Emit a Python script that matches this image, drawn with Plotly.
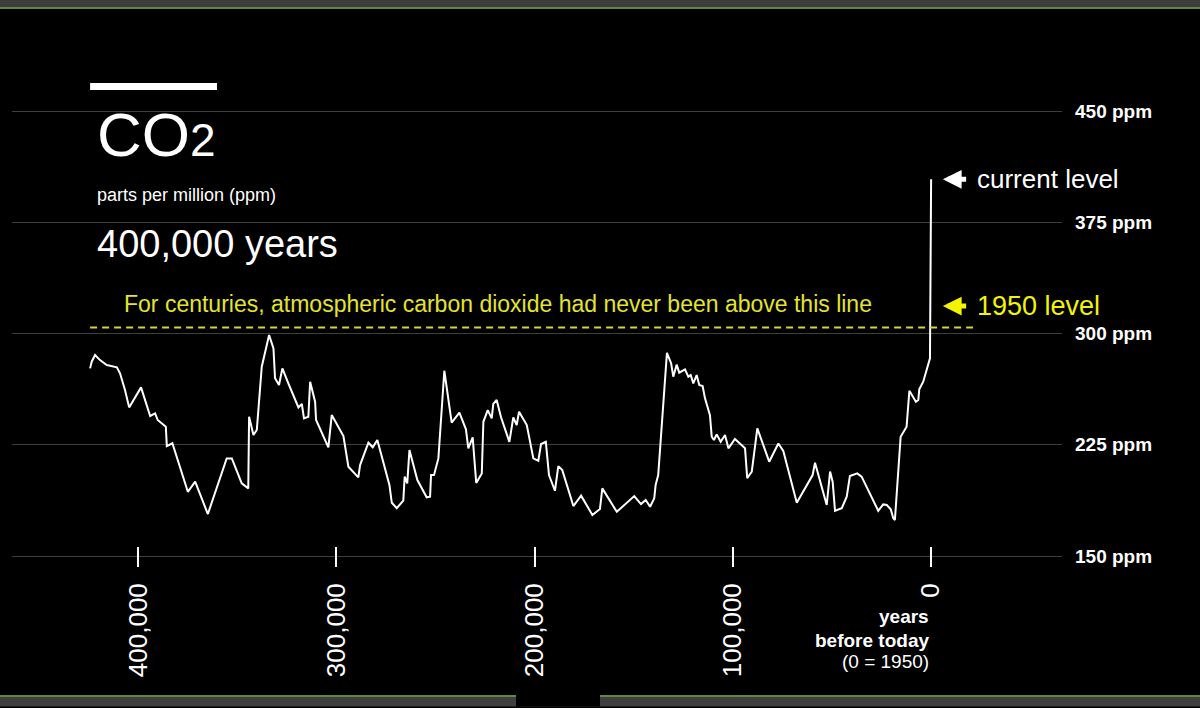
import plotly.graph_objects as go

# thousands of years before 1950
kyr_bp = [
    424.2, 423.4, 421.7, 419.2, 415.8, 410.7, 409.1, 406.6, 404.5, 398.5,
    393.9, 391.4, 390.1, 386.0, 385.5, 382.7, 374.9, 371.2, 364.8, 358.6,
    355.3, 352.7, 347.7, 344.4, 344.0, 341.8, 340.1, 337.6, 333.9, 331.7,
    330.9, 328.9, 327.2, 324.2, 319.1, 317.4, 316.3, 314.1, 313.2, 310.7,
    310.2, 304.0, 302.3, 296.4, 293.9, 288.9, 288.0, 283.8, 281.6, 279.3,
    274.9, 273.2, 272.0, 269.5, 266.2, 265.5, 264.2, 263.1, 259.1, 254.4,
    252.7, 252.2, 250.7, 249.7, 248.5, 245.5, 241.8, 237.9, 234.6, 233.4,
    231.2, 229.4, 226.6, 225.8, 223.6, 221.6, 220.8, 219.1, 216.9, 212.7,
    210.7, 209.0, 207.8, 203.9, 200.6, 198.1, 196.7, 194.3, 192.7, 189.7,
    188.0, 186.0, 180.4, 176.5, 170.8, 167.0, 165.8, 158.5, 149.7, 146.3,
    143.9, 141.7, 139.6, 138.9, 137.6, 133.2, 131.1, 130.0, 128.3, 127.0,
    124.1, 122.4, 121.2, 119.9, 118.2, 116.9, 115.2, 114.0, 111.5, 110.6,
    109.5, 108.1, 106.1, 103.9, 102.2, 98.9, 93.8, 92.7, 90.4, 87.6,
    81.6, 77.0, 74.5, 67.7, 59.7, 58.5, 52.6, 50.9, 49.6, 48.4,
    45.0, 42.5, 40.9, 37.2, 35.0, 26.6, 24.1, 22.3, 20.3, 19.0,
    18.2, 15.3, 12.3, 10.9, 7.6, 6.4, 5.9, 3.9, 0.5, -0.07,
]
co2_ppm = [
    276.5, 281.0, 285.5, 282.1, 278.8, 277.2, 273.2, 261.9, 250.2, 263.7,
    244.4, 246.2, 241.7, 237.2, 224.1, 226.0, 193.3, 200.1, 178.3, 203.5,
    215.8, 215.8, 199.0, 195.6, 243.9, 231.6, 235.0, 277.6, 299.0, 290.0,
    269.8, 265.3, 276.5, 266.4, 250.2, 252.5, 242.8, 243.9, 267.5, 254.0,
    241.7, 223.3, 245.0, 230.9, 210.2, 203.0, 211.3, 226.4, 223.3, 228.2,
    206.9, 197.9, 185.9, 182.2, 187.3, 203.5, 199.0, 221.4, 201.2, 189.6,
    190.0, 204.6, 204.6, 210.2, 215.8, 274.9, 240.0, 246.6, 235.4, 222.6,
    230.0, 199.2, 205.7, 240.5, 248.4, 242.8, 252.5, 255.2, 243.5, 227.0,
    243.5, 238.3, 247.3, 238.3, 215.8, 214.2, 225.5, 227.0, 204.6, 194.0,
    210.6, 207.9, 183.7, 190.7, 177.6, 181.7, 195.6, 179.8, 190.4, 185.0,
    187.8, 183.2, 188.9, 197.9, 204.6, 287.0, 280.0, 270.9, 279.0, 273.6,
    275.8, 270.9, 272.0, 266.4, 272.0, 265.3, 264.6, 256.3, 245.0, 230.4,
    228.2, 232.0, 227.0, 231.6, 222.6, 228.9, 222.6, 202.4, 206.9, 236.1,
    213.6, 225.9, 220.8, 185.9, 204.6, 212.9, 184.4, 206.9, 200.1, 180.5,
    182.2, 190.0, 203.9, 205.7, 203.5, 180.5, 184.8, 184.4, 181.5, 175.4,
    174.3, 230.4, 237.2, 261.4, 254.0, 255.2, 262.4, 267.5, 283.3, 404.0,
]
years_bp = [k * 1000 for k in kyr_bp]

x_ticks = [400000, 300000, 200000, 100000, 0]
y_ticks = [150, 225, 300, 375, 450]
y_labels = [f"{v} ppm" for v in y_ticks]
level_1950 = 304
current_level = 404

FONT = "Liberation Sans, Arial, sans-serif"
YELLOW = "#e4e42c"
BRIGHT_YELLOW = "#f4f400"

fig = go.Figure()
fig.add_trace(go.Scatter(
    x=years_bp, y=co2_ppm, mode="lines",
    line=dict(color="white", width=2), hoverinfo="skip", showlegend=False,
))

shapes = [
    # screenshot frame bars top and bottom
    dict(type="rect", xref="paper", yref="paper", x0=-0.02, x1=1.14, y0=1.1026, y1=1.13,
         fillcolor="#3d3d3d", line_width=0, layer="above"),
    dict(type="line", xref="paper", yref="paper", x0=-0.02, x1=1.14, y0=1.1026, y1=1.1026,
         line=dict(color="#5f8a3c", width=2), layer="above"),
    dict(type="rect", xref="paper", yref="paper", x0=-0.02, x1=1.14, y0=-0.275, y1=-0.2545,
         fillcolor="#3f3f3f", line_width=0, layer="above"),
    dict(type="line", xref="paper", yref="paper", x0=-0.02, x1=1.14, y0=-0.2545, y1=-0.2545,
         line=dict(color="#5f8a3c", width=2), layer="above"),
    dict(type="rect", xref="paper", yref="paper", x0=0.48, x1=0.56, y0=-0.275, y1=-0.248,
         fillcolor="black", line_width=0, layer="above"),
    # white bar above the title
    dict(type="rect", x0=424200, x1=360200, y0=464.2, y1=468.9,
         fillcolor="white", line_width=0),
    # 1950 level
    dict(type="line", x0=424200, x1=-21200, y0=level_1950, y1=level_1950,
         line=dict(color="#d6d63a", width=2, dash="7px,5px")),
]

annotations = [
    dict(x=421700, y=434, text="CO<span style='font-size:46px'>2</span>", showarrow=False,
         xanchor="left", yanchor="middle", font=dict(size=62, color="white")),
    dict(x=421700, y=393.4, text="parts per million (ppm)", showarrow=False,
         xanchor="left", yanchor="middle", font=dict(size=18, color="white")),
    dict(x=421700, y=360.3, text="400,000 years", showarrow=False,
         xanchor="left", yanchor="middle", font=dict(size=38, color="white")),
    dict(x=408100, y=320.1,
         text="For centuries, atmospheric carbon dioxide had never been above this line",
         showarrow=False, xanchor="left", yanchor="middle", font=dict(size=23, color=YELLOW)),
    dict(x=-22200, y=current_level, text="current level", showarrow=False,
         xanchor="left", yanchor="middle", font=dict(size=26, color="white")),
    dict(x=-22200, y=318.5, text="1950 level", showarrow=False,
         xanchor="left", yanchor="middle", font=dict(size=27, color=BRIGHT_YELLOW)),
    dict(x=-6000, y=current_level, ax=-18500, ay=current_level, axref="x", ayref="y",
         text="", showarrow=True, arrowhead=2, arrowsize=0.75, arrowwidth=5, arrowcolor="white"),
    dict(x=-6000, y=318.5, ax=-18500, ay=318.5, axref="x", ayref="y",
         text="", showarrow=True, arrowhead=2, arrowsize=0.75, arrowwidth=5, arrowcolor=BRIGHT_YELLOW),
    dict(x=0, y=-0.0986, yref="paper", text="<b>years</b>", showarrow=False,
         xanchor="right", yanchor="middle", font=dict(size=19, color="white")),
    dict(x=0, y=-0.144, yref="paper", text="<b>before today</b>", showarrow=False,
         xanchor="right", yanchor="middle", font=dict(size=19, color="white")),
    dict(x=0, y=-0.187, yref="paper", text="(0 = 1950)", showarrow=False,
         xanchor="right", yanchor="middle", font=dict(size=19, color="white")),
]

fig.update_layout(
    width=1200, height=708,
    margin=dict(l=12, r=138, t=60, b=141),
    paper_bgcolor="black", plot_bgcolor="black",
    font=dict(family=FONT, color="white"),
    shapes=shapes, annotations=annotations,
    xaxis=dict(
        range=[463600, -66100], tickvals=x_ticks, tickformat=",d",
        tickangle=-90, tickfont=dict(size=26, color="white"),
        ticks="inside", ticklen=20, tickwidth=2, tickcolor="white",
        ticklabelstandoff=10,
        showgrid=False, zeroline=False, showline=False,
    ),
    yaxis=dict(
        range=[142.6, 484.4], side="right", tickvals=y_ticks, ticktext=y_labels,
        tickfont=dict(size=19, color="white", weight="bold"),
        showgrid=True, gridcolor="#3e3e3e", gridwidth=1,
        ticks="", ticklabelstandoff=12, zeroline=False, showline=False,
    ),
)

fig.write_html(
    "out.html",
    config={"displayModeBar": False},
    post_script="document.body.style.margin='0';document.body.style.background='black';",
)
